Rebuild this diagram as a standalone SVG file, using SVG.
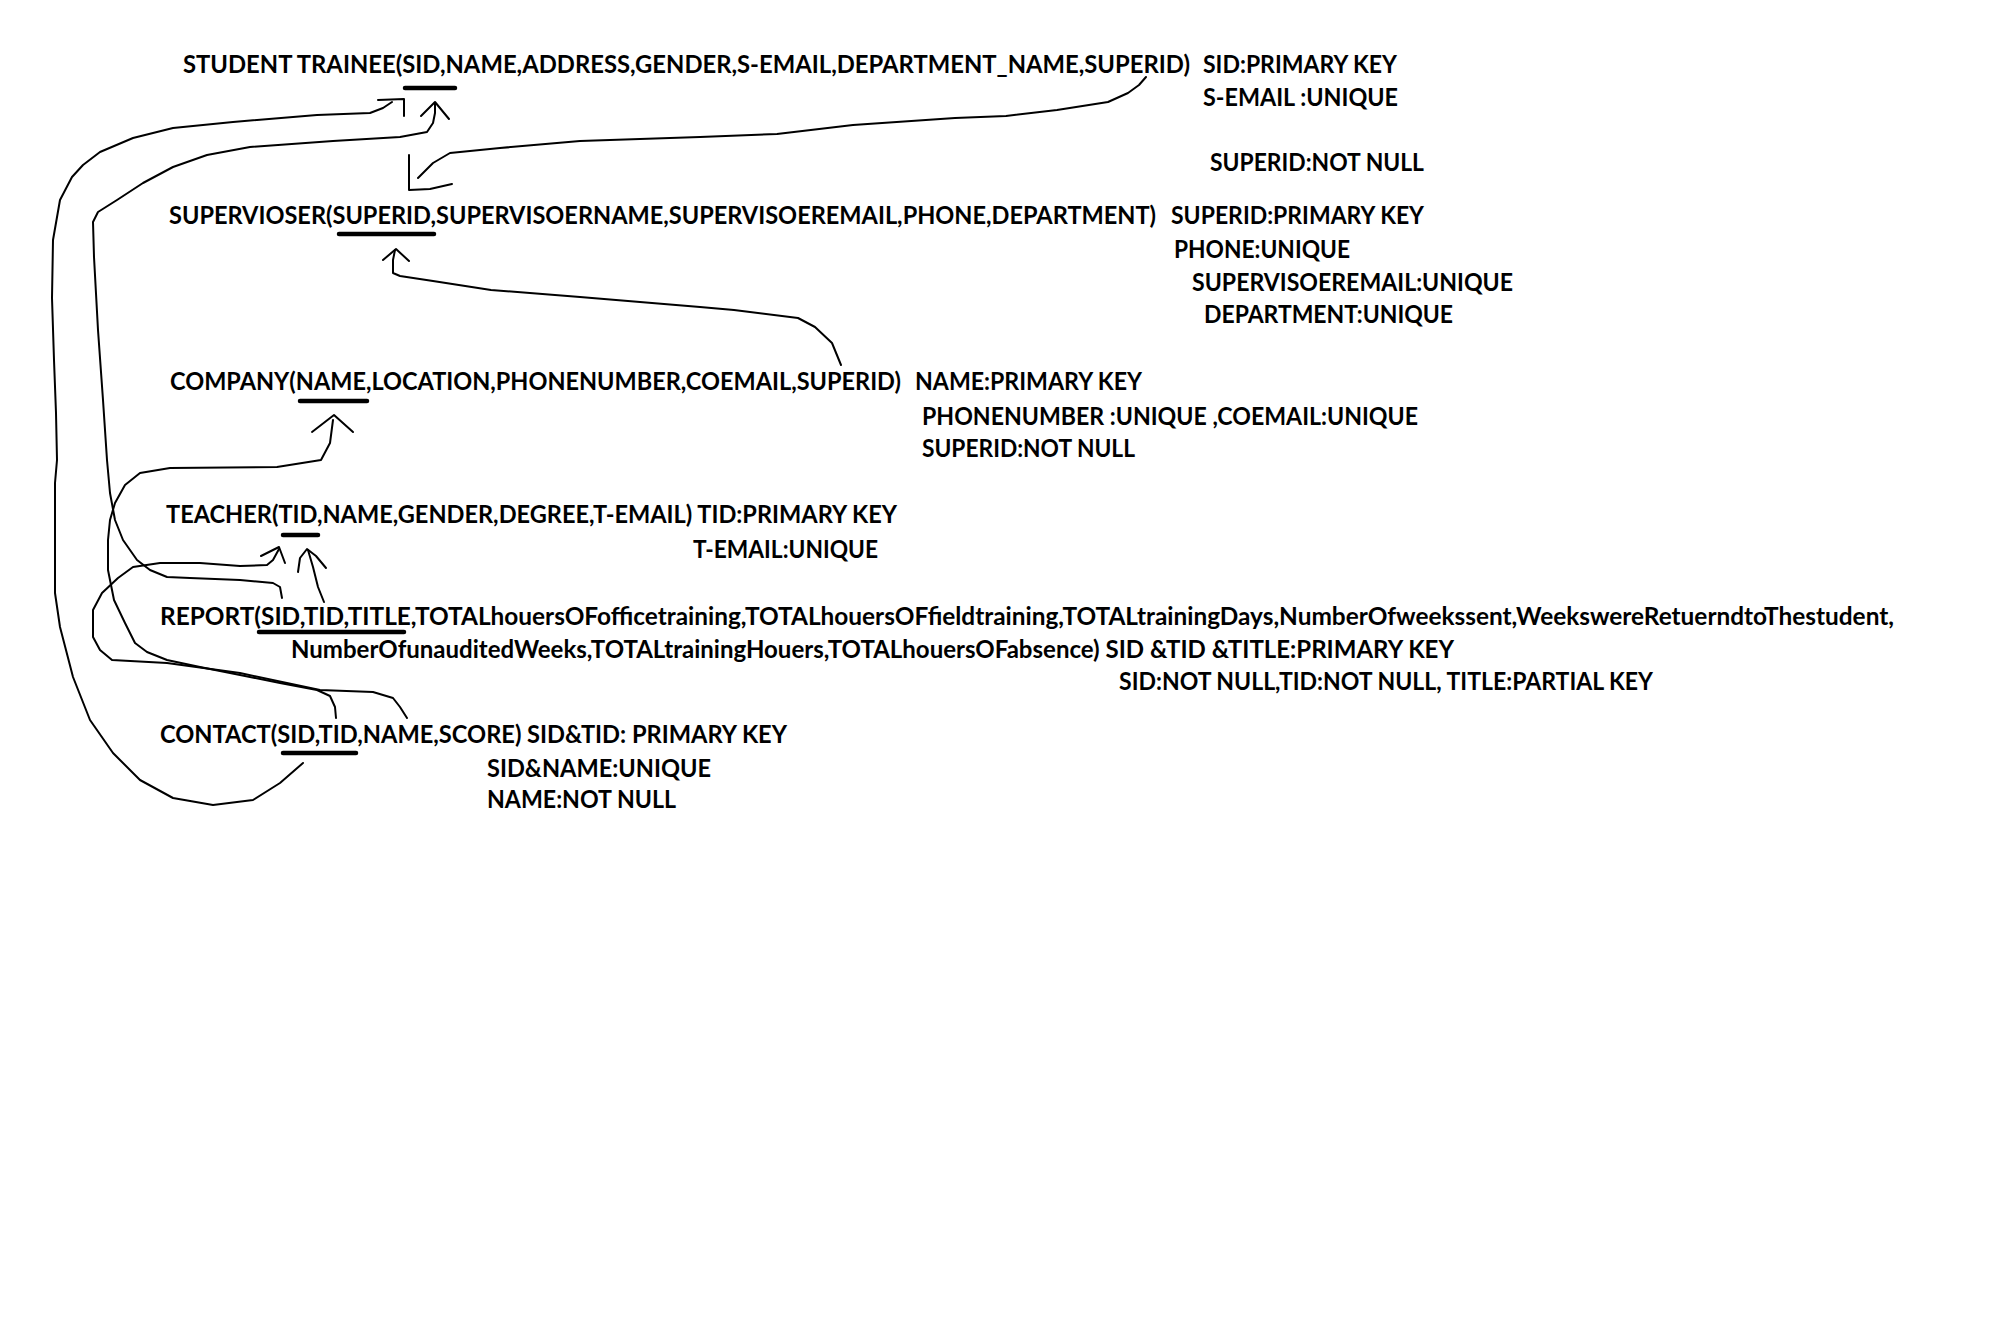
<svg xmlns="http://www.w3.org/2000/svg" width="2004" height="1337" viewBox="0 0 2004 1337">
<style>
text{font-family:Lato,"Open Sans","Liberation Sans",sans-serif;font-weight:700;font-size:25px;fill:#000}
.ul{stroke:#000;stroke-width:4.5;stroke-linecap:round;fill:none}
.c{stroke:#000;stroke-width:2;fill:none;stroke-linejoin:round;stroke-linecap:round}
</style>
<rect width="2004" height="1337" fill="#fff"/>
<g id="student-trainee">
<text x="183" y="73" textLength="1007" lengthAdjust="spacingAndGlyphs">STUDENT TRAINEE(SID,NAME,ADDRESS,GENDER,S-EMAIL,DEPARTMENT_NAME,SUPERID)</text>
<line class="ul" x1="405" y1="88" x2="455" y2="88"/>
<text x="1203" y="73" textLength="194" lengthAdjust="spacingAndGlyphs">SID:PRIMARY KEY</text>
<text x="1203" y="106" textLength="195" lengthAdjust="spacingAndGlyphs">S-EMAIL :UNIQUE</text>
<text x="1210" y="171" textLength="214" lengthAdjust="spacingAndGlyphs">SUPERID:NOT NULL</text>
</g>
<g id="supervioser">
<text x="169" y="224" textLength="987" lengthAdjust="spacingAndGlyphs">SUPERVIOSER(SUPERID,SUPERVISOERNAME,SUPERVISOEREMAIL,PHONE,DEPARTMENT)</text>
<line class="ul" x1="339" y1="234" x2="434" y2="234"/>
<text x="1171" y="224" textLength="253" lengthAdjust="spacingAndGlyphs">SUPERID:PRIMARY KEY</text>
<text x="1174" y="258" textLength="176" lengthAdjust="spacingAndGlyphs">PHONE:UNIQUE</text>
<text x="1192" y="291" textLength="321" lengthAdjust="spacingAndGlyphs">SUPERVISOEREMAIL:UNIQUE</text>
<text x="1204" y="323" textLength="249" lengthAdjust="spacingAndGlyphs">DEPARTMENT:UNIQUE</text>
</g>
<g id="company">
<text x="170" y="390" textLength="731" lengthAdjust="spacingAndGlyphs">COMPANY(NAME,LOCATION,PHONENUMBER,COEMAIL,SUPERID)</text>
<line class="ul" x1="300" y1="401" x2="367" y2="401"/>
<text x="915" y="390" textLength="227" lengthAdjust="spacingAndGlyphs">NAME:PRIMARY KEY</text>
<text x="922" y="425" textLength="496" lengthAdjust="spacingAndGlyphs">PHONENUMBER :UNIQUE ,COEMAIL:UNIQUE</text>
<text x="922" y="457" textLength="213" lengthAdjust="spacingAndGlyphs">SUPERID:NOT NULL</text>
</g>
<g id="teacher">
<text x="166" y="523" textLength="731" lengthAdjust="spacingAndGlyphs">TEACHER(TID,NAME,GENDER,DEGREE,T-EMAIL) TID:PRIMARY KEY</text>
<line class="ul" x1="283" y1="535" x2="318" y2="535"/>
<text x="693" y="558" textLength="185" lengthAdjust="spacingAndGlyphs">T-EMAIL:UNIQUE</text>
</g>
<g id="report">
<text x="160" y="625" textLength="1734" lengthAdjust="spacingAndGlyphs">REPORT(SID,TID,TITLE,TOTALhouersOFofficetraining,TOTALhouersOFfieldtraining,TOTALtrainingDays,NumberOfweekssent,WeekswereRetuerndtoThestudent,</text>
<line class="ul" x1="259" y1="632" x2="404" y2="632"/>
<text x="291" y="658" textLength="1163" lengthAdjust="spacingAndGlyphs">NumberOfunauditedWeeks,TOTALtrainingHouers,TOTALhouersOFabsence) SID &amp;TID &amp;TITLE:PRIMARY KEY</text>
<text x="1119" y="690" textLength="534" lengthAdjust="spacingAndGlyphs">SID:NOT NULL,TID:NOT NULL, TITLE:PARTIAL KEY</text>
</g>
<g id="contact">
<text x="160" y="743" textLength="627" lengthAdjust="spacingAndGlyphs">CONTACT(SID,TID,NAME,SCORE) SID&amp;TID: PRIMARY KEY</text>
<line class="ul" x1="283" y1="753" x2="356" y2="753"/>
<text x="487" y="777" textLength="224" lengthAdjust="spacingAndGlyphs">SID&amp;NAME:UNIQUE</text>
<text x="487" y="808" textLength="189" lengthAdjust="spacingAndGlyphs">NAME:NOT NULL</text>
</g>
<g id="connectors">
<polyline class="c" points="392,102 383,108 370,113 317,115 233,122 173,128 133,138 100,152 83,165 72,177 60,200 53,240 52,298 54,360 56,413 57,460 55,483 55,593 60,627 73,677 90,720 113,753 140,780 173,798 213,805 253,800 280,783 303,763"/>
<polyline class="c" points="378,100 404,99 404,116"/>
<polyline class="c" points="435,103 435,113 433,123 427,132 400,137 333,141 250,147 207,155 173,167 143,183 117,200 98,212 93,222 94,257 98,330 103,400 107,460 110,493 115,520 123,540 137,560 150,570 167,577 190,578 240,580 273,583 280,587 282,598"/>
<polyline class="c" points="421,116 435,102 449,119"/>
<polyline class="c" points="1146,77 1139,85 1128,93 1108,102 1057,110 1006,116 955,118 853,125 777,134 700,137 580,141 500,148 450,153 433,163 418,178"/>
<polyline class="c" points="409,155 409,190 430,189 452,184"/>
<polyline class="c" points="841,365 832,343 815,327 798,318 734,310 700,307 580,297 491,290 433,281 400,276 393,273 393,260 395,250"/>
<polyline class="c" points="383,260 396,249 409,261"/>
<polyline class="c" points="336,718 335,707 330,696 317,690 280,683 240,675 200,667 167,660 147,652 135,643 125,623 114,600 108,570 108,540 110,520 115,503 125,485 140,473 170,468 277,467 321,460 330,443 333,420"/>
<polyline class="c" points="312,432 334,415 353,432"/>
<polyline class="c" points="407,718 400,707 393,698 373,692 320,690 240,673 167,663 112,660 100,650 93,637 93,610 102,593 118,578 133,567 160,563 200,563 240,566 267,565 273,560 279,549"/>
<polyline class="c" points="261,556 279,547 285,563"/>
<polyline class="c" points="324,602 318,587 313,567 308,550"/>
<polyline class="c" points="298,572 300,558 307,549 316,556 326,568"/>
</g>
</svg>
